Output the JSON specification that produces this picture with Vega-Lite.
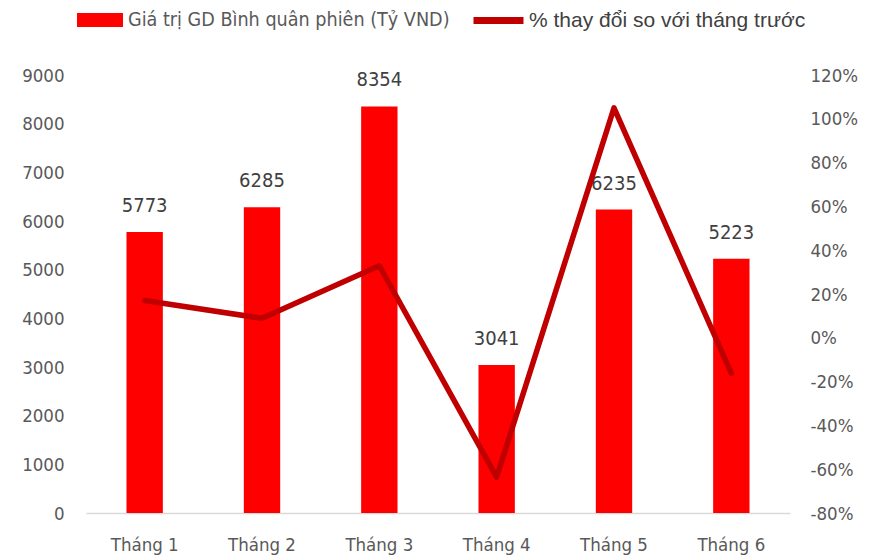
{
  "$schema": "https://vega.github.io/schema/vega-lite/v6.json",
  "width": 704,
  "height": 438,
  "autosize": {"type": "none"},
  "padding": {"left": 86, "top": 75, "right": 83, "bottom": 44},
  "background": "white",
  "config": {
    "view": {"stroke": null},
    "font": "DejaVu Sans Condensed, sans-serif",
    "legend": {"padding": 0, "labelLimit": 600}
  },
  "data": {
    "values": [
      {"thang": "Tháng 1", "gt": 5773, "pct": 0.17},
      {"thang": "Tháng 2", "gt": 6285, "pct": 0.089},
      {"thang": "Tháng 3", "gt": 8354, "pct": 0.329},
      {"thang": "Tháng 4", "gt": 3041, "pct": -0.636},
      {"thang": "Tháng 5", "gt": 6235, "pct": 1.05},
      {"thang": "Tháng 6", "gt": 5223, "pct": -0.162}
    ]
  },
  "encoding": {
    "x": {
      "field": "thang", "type": "nominal", "sort": null,
      "scale": {"paddingInner": 0.69, "paddingOuter": 0.345},
      "axis": {
        "title": null, "labelAngle": 0, "ticks": false,
        "domainColor": "#D9D9D9", "domainWidth": 1.5,
        "labelFontSize": 18.5, "labelColor": "#595959", "labelPadding": 22
      }
    }
  },
  "layer": [
    {
      "layer": [
        {
          "mark": {"type": "bar", "color": "#FF0000"},
          "encoding": {
            "y": {
              "field": "gt", "type": "quantitative",
              "scale": {"domain": [0, 9000], "nice": false},
              "axis": {
                "title": null, "grid": false, "domain": false, "ticks": false,
                "values": [0,1000,2000,3000,4000,5000,6000,7000,8000,9000],
                "format": "d", "labelFontSize": 18.5, "labelColor": "#595959", "labelPadding": 22
              }
            },
            "fill": {
              "datum": "Giá trị GD Bình quân phiên (Tỷ VND)",
              "type": "nominal",
              "scale": {"range": ["#FF0000"]},
              "legend": {
                "title": null, "orient": "none", "legendX": -9, "legendY": -78,
                "symbolType": "M-1,-0.3H1V0.3H-1Z", "symbolSize": 2116,
                "symbolStrokeWidth": 0, "labelFontSize": 19.6, "labelColor": "#595959",
                "labelOffset": 5
              }
            }
          }
        },
        {
          "mark": {"type": "text", "baseline": "middle", "dy": -26, "fontSize": 20, "color": "#404040"},
          "encoding": {
            "y": {"field": "gt", "type": "quantitative"},
            "text": {"field": "gt", "type": "quantitative", "format": "d"}
          }
        }
      ]
    },
    {
      "mark": {"type": "line", "color": "#C00000", "strokeWidth": 5.5, "strokeCap": "round", "strokeJoin": "round"},
      "encoding": {
        "y": {
          "field": "pct", "type": "quantitative",
          "scale": {"domain": [-0.8, 1.2], "nice": false},
          "axis": {
            "orient": "right", "title": null, "grid": false, "domain": false, "ticks": false,
            "values": [-0.8,-0.6,-0.4,-0.2,0,0.2,0.4,0.6,0.8,1.0,1.2],
            "format": ".0%", "labelExpr": "replace(datum.label, '\u2212', '-')",
            "labelFontSize": 18.5, "labelColor": "#595959", "labelPadding": 20
          }
        },
        "stroke": {
          "datum": "% thay đổi so với tháng trước",
          "type": "nominal",
          "scale": {"range": ["#C00000"]},
          "legend": {
            "title": null, "orient": "none", "legendX": 384, "legendY": -83,
            "symbolType": "stroke", "symbolSize": 2500, "symbolStrokeWidth": 7,
            "labelFont": "Liberation Sans", "labelFontSize": 21, "labelColor": "#404040", "labelOffset": 2
          }
        }
      }
    }
  ],
  "resolve": {"scale": {"y": "independent", "fill": "independent", "stroke": "independent"}}
}
